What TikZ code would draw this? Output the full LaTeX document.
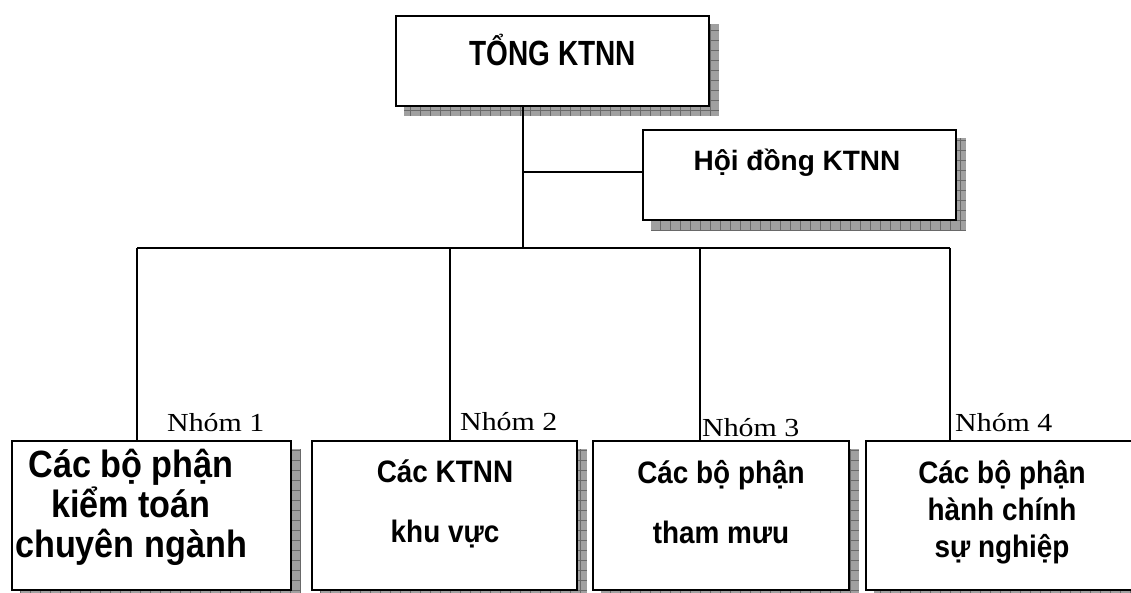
\documentclass[tikz,border=0pt]{standalone}
\usepackage{fontspec}
\setmainfont{Liberation Sans}
\newfontfamily\topf{Liberation Sans}[FakeStretch=0.8]
\newfontfamily\boxf{Liberation Sans}[FakeStretch=0.9]
\newfontfamily\nhomf{Liberation Serif}[FakeStretch=1.15]
\usetikzlibrary{calc}
\pgfdeclarelayer{bg}
\pgfsetlayers{bg,main}
\definecolor{shadegray}{RGB}{160,160,160}
\definecolor{shadeline}{RGB}{105,105,105}
\newcommand\boxshade[1]{%
  \begin{pgfonlayer}{bg}
  \begin{scope}
    \clip ($(#1.south west)+(9,9)$) rectangle ($(#1.north east)+(9,9)$);
    \fill[shadegray] ($(#1.south west)+(9,9)$) rectangle ($(#1.north east)+(9,9)$);
    \draw[shadeline, line width=0.5pt, step=10pt] ($(#1.south west)+(9,9)$) grid ($(#1.north east)+(9,9)$);
  \end{scope}
  \end{pgfonlayer}}
\begin{document}
\begin{tikzpicture}[x=1pt,y=-1pt,
  orgbox/.style={draw, line width=2pt, fill=white, rectangle, inner sep=0pt},
  conn/.style={line width=1.6pt},
  toptext/.style={anchor=base, inner sep=0pt, font=\topf\bfseries\fontsize{35}{40}\selectfont},
  hdtext/.style={anchor=base, inner sep=0pt, font=\bfseries\fontsize{28}{32}\selectfont},
  bigtext/.style={anchor=base, inner sep=0pt, align=center, font=\boxf\bfseries\fontsize{38}{40}\selectfont},
  midtext/.style={anchor=base, inner sep=0pt, align=center, font=\boxf\bfseries\fontsize{31}{60}\selectfont},
  smalltext/.style={anchor=base, inner sep=0pt, align=center, font=\boxf\bfseries\fontsize{31}{37}\selectfont},
  grouplabel/.style={anchor=base west, inner sep=0pt, font=\nhomf\fontsize{26}{30}\selectfont}
]
\useasboundingbox (0,0) rectangle (1131,592);

% boxes
\node[orgbox, minimum width=313pt, minimum height=90pt] (tong) at (552.5,61) {};
\node[orgbox, minimum width=313pt, minimum height=90pt] (hd) at (799.5,175) {};
\node[orgbox, minimum width=279pt, minimum height=149pt] (b1) at (151.5,515.5) {};
\node[orgbox, minimum width=265pt, minimum height=149pt] (b2) at (444.5,515.5) {};
\node[orgbox, minimum width=256pt, minimum height=149pt] (b3) at (721,515.5) {};
\node[orgbox, minimum width=274pt, minimum height=149pt] (b4) at (1003,515.5) {};

\boxshade{tong}
\boxshade{hd}
\boxshade{b1}
\boxshade{b2}
\boxshade{b3}
\boxshade{b4}

% texts (base anchor = baseline of the last line)
\node[toptext] (ttong) at (553,65) {TỔNG KTNN};
\node[hdtext] (thd) at (797,170) {Hội đồng KTNN};
\node[bigtext] (tb1) at (131,557) {Các bộ phận\\kiểm toán\\chuyên ngành};
\node[midtext] (tb2) at (445,542) {Các KTNN\\khu vực};
\node[midtext] (tb3) at (721,543) {Các bộ phận\\tham mưu};
\node[smalltext] (tb4) at (1002,557) {Các bộ phận\\hành chính\\sự nghiệp};

\node[grouplabel] (n1) at (167,431) {Nhóm 1};
\node[grouplabel] (n2) at (460,430) {Nhóm 2};
\node[grouplabel] (n3) at (702,436) {Nhóm 3};
\node[grouplabel] (n4) at (955,431) {Nhóm 4};

% connectors
\coordinate (j) at (523,248);
\coordinate (h) at (523,172);
\coordinate (d1) at (137,248);
\coordinate (d2) at (450,248);
\coordinate (d3) at (700,248);
\coordinate (d4) at (950,248);

\draw[conn] (j |- tong.south) -- (j);
\draw[conn] (h) -- (h -| hd.west);
\draw[conn] (d1) -- (d4);
\draw[conn] (d1) -- (d1 |- b1.north);
\draw[conn] (d2) -- (d2 |- b2.north);
\draw[conn] (d3) -- (d3 |- b3.north);
\draw[conn] (d4) -- (d4 |- b4.north);
\end{tikzpicture}
\end{document}
